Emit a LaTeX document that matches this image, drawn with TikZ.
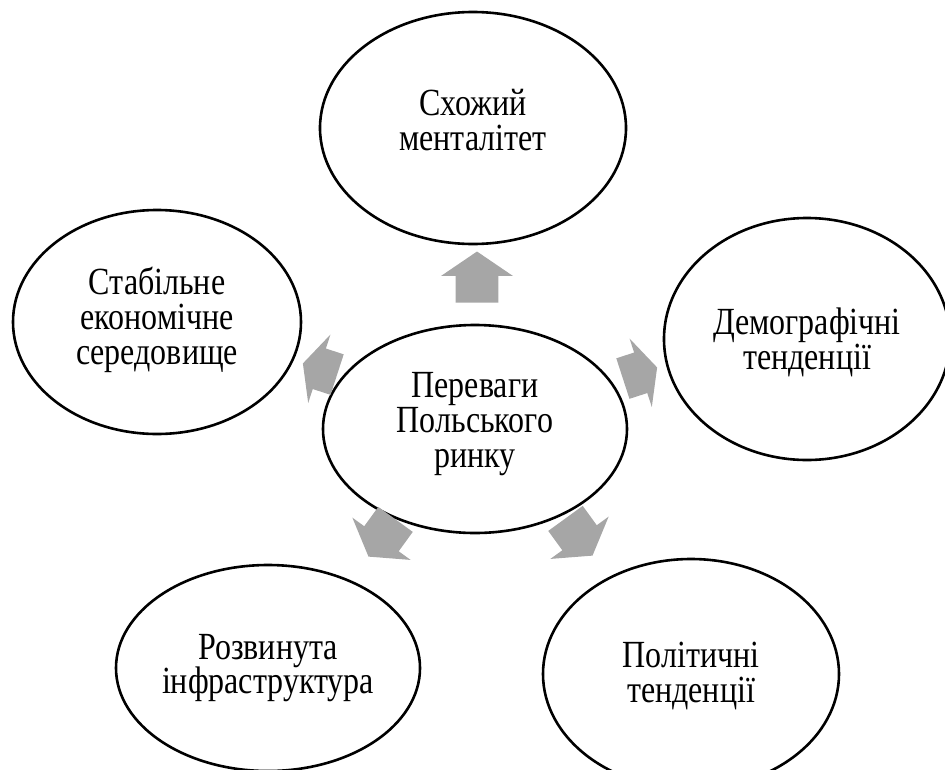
\documentclass[tikz,border=0pt]{standalone}
\usepackage{graphicx}
\usepackage{fontspec}
\setmainfont{Liberation Serif}
\usetikzlibrary{shapes.geometric}
\definecolor{arrowgrey}{RGB}{166,166,166}
% centred lines of tall, narrow lettering
\newcommand\tallstack[1]{\scalebox{1}[1.2]{\vbox{\fontsize{32}{29}\selectfont
  \lineskiplimit=-\maxdimen\halign{\hfil##\hfil\cr#1\crcr}}}}
\tikzset{
  topic/.style={draw=black, line width=2.6pt, ellipse, inner sep=0pt},
  pics/outarrow/.style={code={
    \fill[arrowgrey] (-#1/2,-21.3) -- (0.02*#1,-21.3) -- (0.02*#1,-36)
      -- (#1/2,0) -- (0.02*#1,36) -- (0.02*#1,21.3) -- (-#1/2,21.3) -- cycle;}}
}
\begin{document}
\begin{tikzpicture}[x=1pt,y=-1pt]
\useasboundingbox (0,0) rectangle (945,769);

% hub and surrounding topics
\node[topic, minimum width=304pt, minimum height=208pt] (hub) at (475,429) {};
\node[topic, minimum width=306pt, minimum height=232pt] (mind) at (473,128) {};
\node[topic, minimum width=288pt, minimum height=224pt] (econ) at (157,322) {};
\node[topic, minimum width=286pt, minimum height=242pt] (demo) at (807,339) {};
\node[topic, minimum width=304pt, minimum height=206pt] (infra) at (268,668) {};
\node[topic, minimum width=296pt, minimum height=230pt] (poli) at (691,674) {};

% captions, set slightly above each centre
\node (hub-t)   at ([yshift=5pt]hub.center)   {\tallstack{Переваги\cr Польського\cr ринку}};
\node (mind-t)  at ([yshift=8pt]mind.center)  {\tallstack{Схожий\cr менталітет}};
\node (econ-t)  at ([yshift=2pt]econ.center)  {\tallstack{Стабільне\cr економічне\cr середовище}};
\node (demo-t)  at ([yshift=-3pt]demo.center) {\tallstack{Демографічні\cr тенденції}};
\node (infra-t) at (infra.center)             {\tallstack{Розвинута\cr інфраструктура}};
\node (poli-t)  at ([yshift=-2pt]poli.center) {\tallstack{Політичні\cr тенденції}};

% diverging block arrows
\coordinate (a-mind)  at (477,277);
\coordinate (a-econ)  at (320,369);
\coordinate (a-demo)  at (640,373);
\coordinate (a-infra) at (382,538);
\coordinate (a-poli)  at (579,537);
\pic[rotate=90]  at (a-mind)  {outarrow=51};
\pic[rotate=162] at (a-econ)  {outarrow=36};
\pic[rotate=18]  at (a-demo)  {outarrow=36};
\pic[rotate=234] at (a-infra) {outarrow=46};
\pic[rotate=-54] at (a-poli)  {outarrow=46};
\end{tikzpicture}
\end{document}
